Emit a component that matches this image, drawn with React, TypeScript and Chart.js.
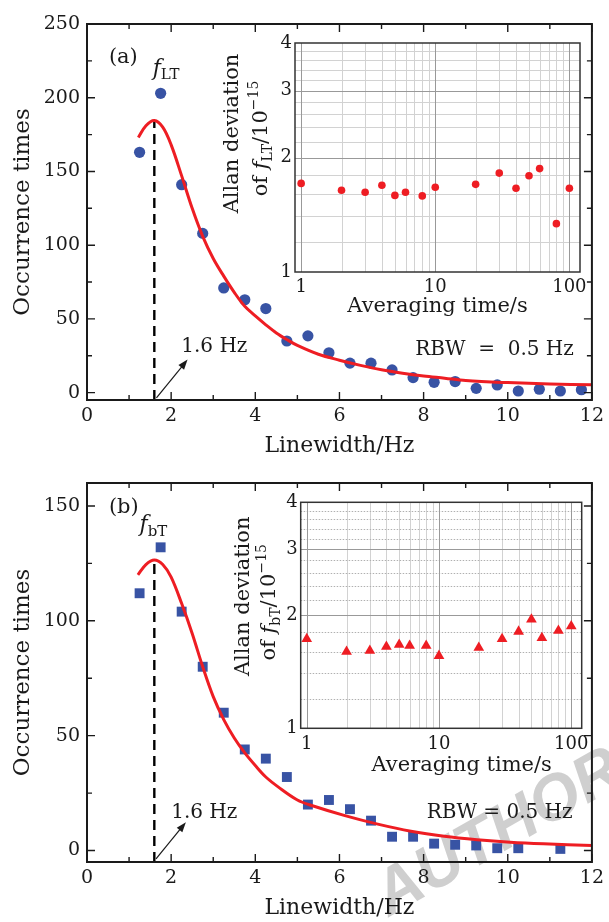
import React, { useEffect, useRef } from "react";
import { Chart, registerables } from "chart.js";
Chart.register(...registerables);

const SERIF = '"DejaVu Serif", "Liberation Serif", serif';
const BLUE = "#3853a4";
const RED = "#ee1d23";
const INK = "#1a1a1a";

// ---------- panel (a) data ----------
const WIDTH_A = [1.25, 1.75, 2.25, 2.75, 3.25, 3.75, 4.25, 4.75, 5.25, 5.75, 6.25, 6.75, 7.25, 7.75, 8.25, 8.75, 9.25, 9.75, 10.25, 10.75, 11.25, 11.75];
const COUNT_A = [163, 203, 141, 108, 71, 63, 57, 35, 38.5, 27, 20, 20, 15.4, 10.2, 7, 7.5, 2.9, 5.2, 1.1, 2.3, 1.1, 2];
const FIT_A_X = [1.22, 1.4, 1.6, 1.8, 2.0, 2.25, 2.5, 2.75, 3.0, 3.25, 3.5, 3.75, 4.0, 4.25, 4.5, 4.75, 5.0, 5.5, 6.0, 6.5, 7.0, 7.5, 8.0, 8.5, 9.0, 10.0, 11.0, 12.0];
const FIT_A_Y = [173, 181, 184.5, 180, 168, 147, 125, 106, 91, 79, 68, 58.5, 52, 46, 40.5, 36, 32, 26, 22, 18.5, 15.5, 13.2, 11.3, 9.8, 8.2, 6.8, 5.9, 5.3];
const TICKS_A = [0, 50, 100, 150, 200, 250];

// ---------- panel (b) data ----------
const WIDTH_B = [1.25, 1.75, 2.25, 2.75, 3.25, 3.75, 4.25, 4.75, 5.25, 5.75, 6.25, 6.75, 7.25, 7.75, 8.25, 8.75, 9.25, 9.75, 10.25, 11.25];
const COUNT_B = [112, 132, 104, 80, 60, 44, 40, 32, 20, 22, 18, 13, 6, 6, 3, 2.5, 2.2, 1, 1, 0.7];
const FIT_B_X = [1.21, 1.4, 1.6, 1.8, 2.0, 2.25, 2.5, 2.75, 3.0, 3.25, 3.5, 3.75, 4.0, 4.25, 4.55, 5.0, 5.34, 6.13, 6.91, 7.7, 8.49, 9.27, 10.06, 10.85, 12.0];
const FIT_B_Y = [120, 124.5, 126.5, 124.5, 119, 107.5, 94.5, 80, 67, 57, 49, 42.5, 37, 32, 27.6, 22, 19.6, 15.2, 11.5, 8.4, 6.2, 4.7, 3.6, 2.9, 2.2];
const TICKS_B = [0, 50, 100, 150];

// linewidth tick labels
const X_TICKS = [0, 2, 4, 6, 8, 10, 12];

// peak linewidth (dashed marker)
const PEAK_HZ = 1.6;

// ---------- insets: Allan deviation ----------
const TAU = [1, 2, 3, 4, 5, 6, 8, 10, 20, 30, 40, 50, 60, 80, 100];
const ADEV_A = [1.71, 1.64, 1.62, 1.69, 1.59, 1.62, 1.585, 1.67, 1.7, 1.82, 1.66, 1.79, 1.87, 1.34, 1.66];
const ADEV_B = [1.73, 1.6, 1.61, 1.65, 1.67, 1.66, 1.66, 1.56, 1.64, 1.73, 1.81, 1.95, 1.74, 1.82, 1.87];

const TAU_TICKS = [1, 10, 100];
const ADEV_TICKS = [1, 2, 3, 4];
const TAU_GRID_MAJOR = [1, 10, 100];
const TAU_GRID_MINOR = [2, 3, 4, 5, 6, 7, 8, 9, 20, 30, 40, 50, 60, 70, 80, 90];
const ADEV_GRID_MAJOR = [2, 3];
const ADEV_GRID_MINOR = [1.2, 1.4, 1.6, 1.8, 2.2, 2.4, 2.6, 2.8, 3.2, 3.4, 3.6, 3.8];

type Run = { t: string; k?: "i" | "sub" | "sup" };

function fontFor(k: Run["k"], base: number) {
  if (k === "i") return `italic ${base}px ${SERIF}`;
  if (k === "sub" || k === "sup") return `${Math.round(base * 0.66)}px ${SERIF}`;
  return `${base}px ${SERIF}`;
}

function drawRuns(ctx: CanvasRenderingContext2D, runs: Run[], x: number, y: number, align: "left" | "center" | "right", base: number) {
  ctx.textAlign = "left";
  ctx.textBaseline = "alphabetic";
  const widths = runs.map((r) => {
    ctx.font = fontFor(r.k, base);
    return ctx.measureText(r.t).width;
  });
  const total = widths.reduce((s, w) => s + w, 0);
  let cx = align === "left" ? x : align === "center" ? x - total / 2 : x - total;
  runs.forEach((r, i) => {
    ctx.font = fontFor(r.k, base);
    const dy = r.k === "sub" ? base * 0.22 : r.k === "sup" ? -base * 0.42 : 0;
    ctx.fillText(r.t, cx, y + dy);
    cx += widths[i];
  });
}

type MainPanel = {
  canvasH: number;
  padTop: number;
  padRight: number;
  yAxisW: number;
  xAxisH: number;
  yMin: number;
  yMax: number;
  yTicks: number[];
  yMinor: number;
  xs: number[];
  ys: number[];
  fitX: number[];
  fitY: number[];
  peakY: number;
  pointStyle: string;
  pointRadius: number;
  label: string;
  fSub: string;
  fPos: [number, number];
  labelPos: [number, number];
  arrowFrom: [number, number];
  arrowTo: [number, number];
  hzPos: [number, number];
  rbwPos: [number, number];
  rbwText: string;
};

const PANEL_A: MainPanel = {
  canvasH: 460, padTop: 24, padRight: 14, yAxisW: 87, xAxisH: 60,
  yMin: -5, yMax: 250, yTicks: TICKS_A, yMinor: 25,
  xs: WIDTH_A, ys: COUNT_A, fitX: FIT_A_X, fitY: FIT_A_Y, peakY: 184.5,
  pointStyle: "circle", pointRadius: 5.6,
  label: "(a)", fSub: "LT", fPos: [1.56, 215.7], labelPos: [0.52, 223.7],
  arrowFrom: [1.65, -3.6], arrowTo: [2.39, 22.4], hzPos: [2.24, 27.3],
  rbwPos: [11.57, 25.3], rbwText: "RBW  =  0.5 Hz",
};

const PANEL_B: MainPanel = {
  canvasH: 462, padTop: 23, padRight: 13, yAxisW: 87, xAxisH: 60,
  yMin: -5, yMax: 160, yTicks: TICKS_B, yMinor: 25,
  xs: WIDTH_B, ys: COUNT_B, fitX: FIT_B_X, fitY: FIT_B_Y, peakY: 126.5,
  pointStyle: "rect", pointRadius: 7,
  label: "(b)", fSub: "bT", fPos: [1.25, 139.1], labelPos: [0.52, 146.8],
  arrowFrom: [1.64, -3.6], arrowTo: [2.35, 12.3], hzPos: [2.0, 14.3],
  rbwPos: [11.54, 14.1], rbwText: "RBW = 0.5 Hz",
};

function mainConfig(p: MainPanel): any {
  const deco = {
    id: "mainDeco",
    afterDraw(chart: any) {
      const { ctx, chartArea: a, scales } = chart;
      const x = scales.x, y = scales.y;
      ctx.save();
      ctx.strokeStyle = INK;
      ctx.lineWidth = 1.4;
      ctx.beginPath();
      for (let v = 0; v <= 12; v += 1) {
        const px = x.getPixelForValue(v);
        const len = v % 2 === 0 ? 8 : 5;
        ctx.moveTo(px, a.bottom); ctx.lineTo(px, a.bottom - len);
        ctx.moveTo(px, a.top); ctx.lineTo(px, a.top + len);
      }
      for (let v = 0; v <= p.yMax; v += p.yMinor) {
        const py = y.getPixelForValue(v);
        const len = p.yTicks.includes(v) ? 8 : 5;
        ctx.moveTo(a.left, py); ctx.lineTo(a.left + len, py);
        ctx.moveTo(a.right, py); ctx.lineTo(a.right - len, py);
      }
      ctx.stroke();
      ctx.lineWidth = 2;
      ctx.strokeRect(a.left, a.top, a.right - a.left, a.bottom - a.top);

      // arrow
      const x0 = x.getPixelForValue(p.arrowFrom[0]), y0 = y.getPixelForValue(p.arrowFrom[1]);
      const x1 = x.getPixelForValue(p.arrowTo[0]), y1 = y.getPixelForValue(p.arrowTo[1]);
      const ang = Math.atan2(y1 - y0, x1 - x0);
      ctx.lineWidth = 1.2;
      ctx.beginPath();
      ctx.moveTo(x0, y0);
      ctx.lineTo(x1 - Math.cos(ang) * 6, y1 - Math.sin(ang) * 6);
      ctx.stroke();
      ctx.fillStyle = INK;
      ctx.beginPath();
      ctx.moveTo(x1, y1);
      ctx.lineTo(x1 - Math.cos(ang) * 10 + Math.sin(ang) * 3.6, y1 - Math.sin(ang) * 10 - Math.cos(ang) * 3.6);
      ctx.lineTo(x1 - Math.cos(ang) * 10 - Math.sin(ang) * 3.6, y1 - Math.sin(ang) * 10 + Math.cos(ang) * 3.6);
      ctx.closePath();
      ctx.fill();

      // texts
      ctx.fillStyle = INK;
      drawRuns(ctx, [{ t: p.label }], x.getPixelForValue(p.labelPos[0]), y.getPixelForValue(p.labelPos[1]), "left", 21);
      drawRuns(ctx, [{ t: "f", k: "i" }, { t: p.fSub, k: "sub" }], x.getPixelForValue(p.fPos[0]), y.getPixelForValue(p.fPos[1]), "left", 22);
      drawRuns(ctx, [{ t: "1.6 Hz" }], x.getPixelForValue(p.hzPos[0]), y.getPixelForValue(p.hzPos[1]), "left", 20);
      drawRuns(ctx, [{ t: p.rbwText }], x.getPixelForValue(p.rbwPos[0]), y.getPixelForValue(p.rbwPos[1]), "right", 20);
      ctx.restore();
    },
  };

  const tickFont = { family: SERIF, size: 19 };
  const titleFont = { family: SERIF, size: 22 };

  return {
    type: "scatter",
    data: {
      datasets: [
        {
          type: "line",
          data: p.fitX.map((v, i) => ({ x: v, y: p.fitY[i] })),
          borderColor: RED,
          borderWidth: 3,
          pointRadius: 0,
          tension: 0.35,
          fill: false,
        },
        {
          type: "line",
          data: [{ x: PEAK_HZ, y: p.yMin }, { x: PEAK_HZ, y: p.peakY }],
          borderColor: "#000",
          borderWidth: 2.4,
          borderDash: [10, 6],
          pointRadius: 0,
          fill: false,
        },
        {
          type: "scatter",
          data: p.xs.map((v, i) => ({ x: v, y: p.ys[i] })),
          backgroundColor: BLUE,
          borderWidth: 0,
          pointStyle: p.pointStyle,
          pointRadius: p.pointRadius,
        },
      ],
    },
    options: {
      animation: false,
      responsive: false,
      maintainAspectRatio: false,
      layout: { padding: { top: p.padTop, right: p.padRight, left: 0, bottom: 0 } },
      plugins: { legend: { display: false }, tooltip: { enabled: false } },
      scales: {
        x: {
          type: "linear",
          min: 0,
          max: 12,
          grid: { display: false, drawTicks: false },
          border: { display: false },
          ticks: { font: tickFont, color: INK, padding: 5, maxRotation: 0, autoSkip: false },
          afterBuildTicks: (s: any) => { s.ticks = X_TICKS.map((v) => ({ value: v })); },
          title: { display: true, text: "Linewidth/Hz", font: titleFont, color: INK, padding: { top: 0, bottom: 1 } },
          afterFit: (s: any) => { s.height = p.xAxisH; },
        },
        y: {
          type: "linear",
          min: p.yMin,
          max: p.yMax,
          grid: { display: false, drawTicks: false },
          border: { display: false },
          ticks: { font: tickFont, color: INK, padding: 7, autoSkip: false },
          afterBuildTicks: (s: any) => { s.ticks = p.yTicks.map((v) => ({ value: v })); },
          title: { display: true, text: "Occurrence times", font: { family: SERIF, size: 23 }, color: INK, padding: { top: 9, bottom: 0 } },
          afterFit: (s: any) => { s.width = p.yAxisW; },
        },
      },
    },
    plugins: [deco],
  };
}

type InsetPanel = {
  canvasH: number;
  padTop: number;
  padRight: number;
  yAxisW: number;
  xAxisH: number;
  ys: number[];
  pointStyle: string;
  pointRadius: number;
  sub: string;
  dottedMinorY: boolean;
  yTitleDx: [number, number];
  yTitleDy: [number, number];
  xTitleDx: number;
  xTitleDy: number;
};

const INSET_A: InsetPanel = {
  canvasH: 330, padTop: 43, padRight: 20, yAxisW: 85, xAxisH: 58,
  ys: ADEV_A, pointStyle: "circle", pointRadius: 3.8, sub: "LT", dottedMinorY: false,
  yTitleDx: [-57, -28], yTitleDy: [-24, -19], xTitleDx: 0, xTitleDy: 40,
};

const INSET_B: InsetPanel = {
  canvasH: 330, padTop: 42.3, padRight: 18.3, yAxisW: 90.7, xAxisH: 61.7,
  ys: ADEV_B, pointStyle: "triangle", pointRadius: 6.2, sub: "bT", dottedMinorY: true,
  yTitleDx: [-52, -25.5], yTitleDy: [-19, -13], xTitleDx: 20.5, xTitleDy: 42.4,
};

function insetConfig(p: InsetPanel): any {
  const deco = {
    id: "insetDeco",
    beforeDatasetsDraw(chart: any) {
      const { ctx, chartArea: a, scales } = chart;
      const x = scales.x, y = scales.y;
      ctx.save();
      ctx.fillStyle = "#fff";
      ctx.fillRect(a.left, a.top, a.right - a.left, a.bottom - a.top);
      ctx.lineWidth = 1;
      const vline = (v: number, color: string) => {
        const px = Math.round(x.getPixelForValue(v)) + 0.5;
        ctx.strokeStyle = color;
        ctx.beginPath(); ctx.moveTo(px, a.top); ctx.lineTo(px, a.bottom); ctx.stroke();
      };
      const hline = (v: number, color: string) => {
        const py = Math.round(y.getPixelForValue(v)) + 0.5;
        ctx.strokeStyle = color;
        ctx.beginPath(); ctx.moveTo(a.left, py); ctx.lineTo(a.right, py); ctx.stroke();
      };
      TAU_GRID_MINOR.forEach((v) => vline(v, "#d2d2d2"));
      if (p.dottedMinorY) ctx.setLineDash([1.5, 1.5]);
      ADEV_GRID_MINOR.forEach((v) => hline(v, p.dottedMinorY ? "#b0b0b0" : "#d2d2d2"));
      ctx.setLineDash([]);
      TAU_GRID_MAJOR.forEach((v) => vline(v, "#999"));
      ADEV_GRID_MAJOR.forEach((v) => hline(v, "#999"));
      ctx.restore();
    },
    afterDraw(chart: any) {
      const { ctx, chartArea: a } = chart;
      ctx.save();
      ctx.strokeStyle = "#333";
      ctx.lineWidth = 1.5;
      ctx.strokeRect(a.left, a.top, a.right - a.left, a.bottom - a.top);
      ctx.fillStyle = INK;
      const cy = (a.top + a.bottom) / 2;
      const cx = (a.left + a.right) / 2;
      ctx.save();
      ctx.translate(a.left + p.yTitleDx[0], cy + p.yTitleDy[0]);
      ctx.rotate(-Math.PI / 2);
      drawRuns(ctx, [{ t: "Allan deviation" }], 0, 0, "center", 21);
      ctx.restore();
      ctx.save();
      ctx.translate(a.left + p.yTitleDx[1], cy + p.yTitleDy[1]);
      ctx.rotate(-Math.PI / 2);
      drawRuns(ctx, [{ t: "of " }, { t: "f", k: "i" }, { t: p.sub, k: "sub" }, { t: "/10" }, { t: "\u221215", k: "sup" }], 0, 0, "center", 21);
      ctx.restore();
      drawRuns(ctx, [{ t: "Averaging time/s" }], cx + p.xTitleDx, a.bottom + p.xTitleDy, "center", 21);
      ctx.restore();
    },
  };
  const tickFont = { family: SERIF, size: 18 };
  return {
    type: "scatter",
    data: {
      datasets: [
        {
          data: TAU.map((v, i) => ({ x: v, y: p.ys[i] })),
          backgroundColor: RED,
          borderWidth: 0,
          pointStyle: p.pointStyle,
          pointRadius: p.pointRadius,
        },
      ],
    },
    options: {
      animation: false,
      responsive: false,
      maintainAspectRatio: false,
      layout: { padding: { top: p.padTop, right: p.padRight, left: 0, bottom: 0 } },
      plugins: { legend: { display: false }, tooltip: { enabled: false } },
      scales: {
        x: {
          type: "logarithmic",
          min: 0.9,
          max: 120,
          grid: { display: false, drawTicks: false },
          border: { display: false },
          ticks: { font: tickFont, color: INK, padding: 5, maxRotation: 0, autoSkip: false, callback: (v: any) => String(v) },
          afterBuildTicks: (s: any) => { s.ticks = TAU_TICKS.map((v) => ({ value: v })); },
          afterFit: (s: any) => { s.height = p.xAxisH; },
        },
        y: {
          type: "logarithmic",
          min: 1,
          max: 4,
          grid: { display: false, drawTicks: false },
          border: { display: false },
          ticks: { font: tickFont, color: INK, padding: 3, autoSkip: false, callback: (v: any) => String(v) },
          afterBuildTicks: (s: any) => { s.ticks = ADEV_TICKS.map((v) => ({ value: v })); },
          afterFit: (s: any) => { s.width = p.yAxisW; },
        },
      },
    },
    plugins: [deco],
  };
}

export default function App() {
  const ra = useRef<HTMLCanvasElement>(null);
  const rb = useRef<HTMLCanvasElement>(null);
  const ria = useRef<HTMLCanvasElement>(null);
  const rib = useRef<HTMLCanvasElement>(null);

  useEffect(() => {
    const charts = [
      new Chart(ra.current as HTMLCanvasElement, mainConfig(PANEL_A)),
      new Chart(rb.current as HTMLCanvasElement, mainConfig(PANEL_B)),
      new Chart(ria.current as HTMLCanvasElement, insetConfig(INSET_A)),
      new Chart(rib.current as HTMLCanvasElement, insetConfig(INSET_B)),
    ];
    return () => charts.forEach((c) => c.destroy());
  }, []);

  const abs = (left: number, top: number, w: number, h: number): React.CSSProperties => ({
    position: "absolute", left, top, width: w, height: h,
  });

  return (
    <div style={{ position: "absolute", left: 0, top: 0, width: 609, height: 922, background: "#fff", overflow: "hidden" }}>
      <div
        style={{
          position: "absolute",
          left: 497,
          top: 830,
          transform: "translate(-50%, -50%) rotate(-29.7deg)",
          font: "italic bold 64px 'Liberation Sans', Arial, sans-serif",
          color: "rgba(160,160,160,0.5)",
          whiteSpace: "nowrap",
          lineHeight: 1,
          pointerEvents: "none",
        }}
      >
        AUTHOR
      </div>
      <canvas ref={ra} width={609} height={460} style={abs(0, 0, 609, 460)} />
      <canvas ref={rb} width={609} height={462} style={abs(0, 460, 609, 462)} />
      <canvas ref={ria} width={390} height={330} style={abs(210, 0, 390, 330)} />
      <canvas ref={rib} width={390} height={330} style={abs(210, 460, 390, 330)} />
    </div>
  );
}
